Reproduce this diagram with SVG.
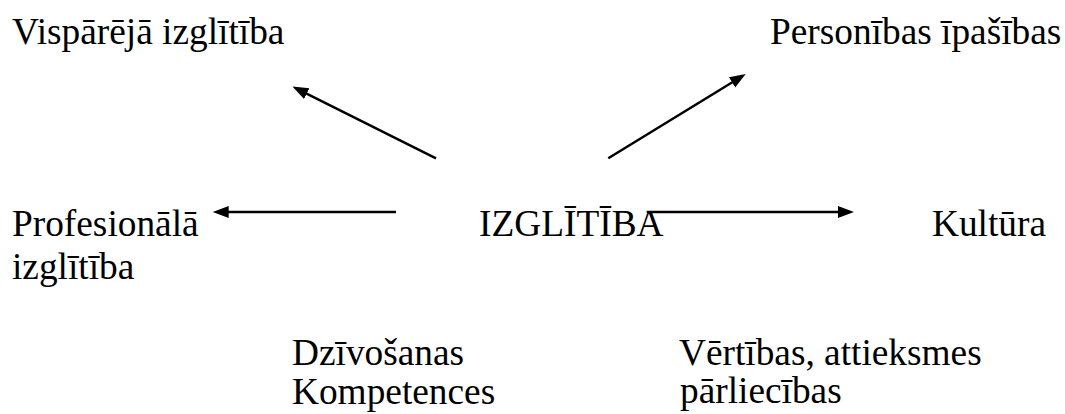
<svg xmlns="http://www.w3.org/2000/svg" width="1065" height="414" viewBox="0 0 1065 414">
  <style>
    text { font-family: "Liberation Serif", "Times New Roman", serif; font-size: 37.33px; fill: #000; }
    .conn { stroke: #000; stroke-width: 2.5; fill: none; marker-end: url(#arrow); }
  </style>
  <defs>
    <marker id="arrow" markerUnits="userSpaceOnUse" markerWidth="17" markerHeight="13" refX="8" refY="6" orient="auto">
      <path d="M0,0 L16,6 L0,12 z" fill="#000"/>
    </marker>
  </defs>
  <rect width="1065" height="414" fill="#fff"/>
  <g id="n-vispareja"><text x="12" y="43.5">Vispārējā izglītība</text></g>
  <g id="n-personibas"><text x="770" y="43.5">Personības īpašības</text></g>
  <g id="n-profesionala"><text x="12" y="236">Profesionālā</text><text x="12" y="279">izglītība</text></g>
  <g id="n-izglitiba"><text x="479" y="236">IZGLĪTĪBA</text></g>
  <g id="n-kultura"><text x="932" y="236">Kultūra</text></g>
  <g id="n-dzivosanas"><text x="292" y="365">Dzīvošanas</text><text x="292" y="404">Kompetences</text></g>
  <g id="n-vertibas"><text x="679" y="365">Vērtības, attieksmes</text><text x="680" y="403">pārliecības</text></g>
  <g id="connectors">
    <line class="conn" x1="436" y1="158.3" x2="299.6" y2="90.1"/>
    <line class="conn" x1="608.3" y1="158.3" x2="738.9" y2="78.2"/>
    <line class="conn" x1="396" y1="212" x2="220.7" y2="212"/>
    <line class="conn" x1="646.7" y1="212" x2="846" y2="212"/>
  </g>
</svg>
